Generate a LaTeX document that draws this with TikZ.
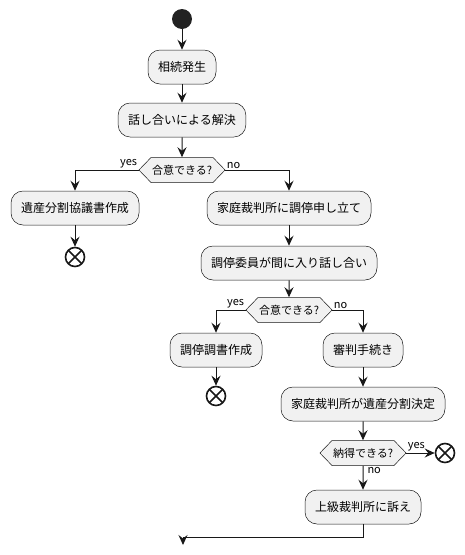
\documentclass[tikz,border=0pt]{standalone}
\usepackage{fontspec}
\newfontfamily\jpfont{Noto Sans CJK JP}
\usetikzlibrary{shapes.symbols, positioning, arrows.meta}
\definecolor{umlline}{HTML}{181818}
\definecolor{boxfill}{HTML}{F1F1F1}
\definecolor{dotfill}{HTML}{222222}

\begin{document}
\begin{tikzpicture}[
      x=1pt, y=-1pt,
      act/.style={draw=umlline, fill=boxfill, line width=0.5pt, rounded corners=12pt,
        minimum height=34pt, inner xsep=10pt, font=\jpfont\fontsize{12pt}{14pt}\selectfont},
      decide/.style={shape=signal, signal to=west and east, signal pointer angle=92,
        draw=umlline, fill=boxfill, line width=0.5pt, minimum height=25pt,
        inner xsep=1pt, inner ysep=0pt, font=\jpfont\fontsize{11pt}{13pt}\selectfont},
      startdot/.style={circle, fill=dotfill, minimum size=20pt, inner sep=0pt},
      endstop/.style={circle, draw=umlline, line width=1.6pt, fill=white,
        minimum size=19pt, inner sep=0pt,
        path picture={\draw[umlline, line width=1.6pt]
          (path picture bounding box.north west) -- (path picture bounding box.south east)
          (path picture bounding box.north east) -- (path picture bounding box.south west);}},
      flow/.style={draw=umlline, line width=1pt, -{Stealth[length=10pt, width=9pt, inset=3.5pt]}},
      lbl/.style={font=\jpfont\fontsize{11pt}{13pt}\selectfont, inner sep=1pt}
    ]
    \useasboundingbox (0,0) rectangle (464,555);

    \node[startdot] (start) at (182,19) {};
    \node[act] (occur) at (182,67) {相続発生};
    \node[act] (talk) at (182,120) {話し合いによる解決};
    \node[decide] (agree) at (182,170) {合意できる?};
    \node[act] (deed) at (75,208) {遺産分割協議書作成};
    \node[endstop] (stopA) at (75,257) {};
    \node[act] (apply) at (289,208) {家庭裁判所に調停申し立て};
    \node[act] (mediate) at (289,263) {調停委員が間に入り話し合い};
    \node[decide] (agreeB) at (289,310) {合意できる?};
    \node[act] (record) at (216,350) {調停調書作成};
    \node[endstop] (stopB) at (216,396) {};
    \node[act] (trial) at (363,350) {審判手続き};
    \node[act] (ruling) at (363,404) {家庭裁判所が遺産分割決定};
    \node[decide] (accept) at (363,453) {納得できる?};
    \node[endstop] (stopC) at (445,453) {};
    \node[act] (appeal) at (363,507) {上級裁判所に訴え};
    \coordinate (join) at (183,537);
    \coordinate (out) at (183,545);

    \draw[flow] (start) -- (occur);
    \draw[flow] (occur) -- (talk);
    \draw[flow] (talk) -- (agree);
    \draw[flow] (agree.west) -| (deed) node[lbl, pos=0, anchor=south east] {yes};
    \draw[flow] (agree.east) -| (apply) node[lbl, pos=0, anchor=south west] {no};
    \draw[flow] (deed) -- (stopA);
    \draw[flow] (apply) -- (mediate);
    \draw[flow] (mediate) -- (agreeB);
    \draw[flow] (agreeB.west) -| (record) node[lbl, pos=0, anchor=south east] {yes};
    \draw[flow] (agreeB.east) -| (trial) node[lbl, pos=0, anchor=south west] {no};
    \draw[flow] (record) -- (stopB);
    \draw[flow] (trial) -- (ruling);
    \draw[flow] (ruling) -- (accept);
    \draw[flow] (accept.east) -- (stopC) node[lbl, pos=0, anchor=south west] {yes};
    \draw[flow] (accept) -- (appeal) node[lbl, pos=0, anchor=north west, xshift=3pt] {no};
    \draw[umlline, line width=1pt] (appeal) |- (join);
    \draw[flow] (join) -- (out);
\end{tikzpicture}
\end{document}
